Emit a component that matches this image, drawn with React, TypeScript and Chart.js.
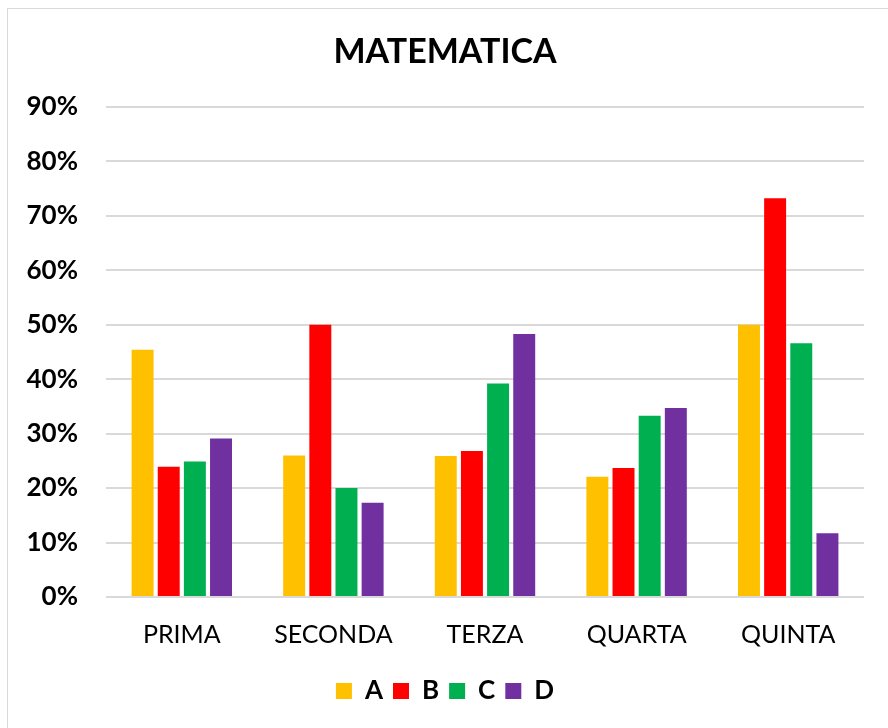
import React, { useEffect, useRef } from "react";
import { Chart, registerables } from "chart.js";

Chart.register(...registerables);

const categories = ["PRIMA", "SECONDA", "TERZA", "QUARTA", "QUINTA"];
const seriesNames = ["A", "B", "C", "D"];
const valuesA = [45.4, 26.0, 25.9, 22.1, 50.0];
const valuesB = [23.9, 50.0, 26.8, 23.7, 73.2];
const valuesC = [24.9, 20.0, 39.2, 33.3, 46.6];
const valuesD = [29.1, 17.3, 48.3, 34.7, 11.7];
const seriesColors = ["#FFC000", "#FF0000", "#00B050", "#7030A0"];
const yTicks = [0, 10, 20, 30, 40, 50, 60, 70, 80, 90];

export default function App() {
  const canvasRef = useRef<HTMLCanvasElement | null>(null);

  useEffect(() => {
    if (!canvasRef.current) return;
    const allValues = [valuesA, valuesB, valuesC, valuesD];
    const chart = new Chart(canvasRef.current, {
      type: "bar",
      data: {
        labels: categories,
        datasets: seriesNames.map((name, i) => ({
          label: name,
          data: allValues[i],
          backgroundColor: seriesColors[i],
          borderWidth: 0,
          categoryPercentage: 0.69,
          barPercentage: 0.84,
        })),
      },
      options: {
        animation: false,
        responsive: true,
        maintainAspectRatio: false,
        layout: { padding: { top: 23, left: 18, right: 24, bottom: 14 } },
        plugins: {
          title: {
            display: true,
            text: "MATEMATICA",
            color: "#000",
            font: { family: "Lato", size: 34, weight: "bold" },
            padding: { top: 0, bottom: 34 },
          },
          legend: {
            display: true,
            position: "bottom",
            labels: {
              color: "#000",
              font: { family: "Lato", size: 26, weight: "bold" },
              boxWidth: 16,
              boxHeight: 16,
              padding: 10,
            },
          },
          tooltip: { enabled: false },
        },
        scales: {
          x: {
            grid: { display: false },
            border: { display: false },
            ticks: {
              color: "#000",
              font: { family: "Lato", size: 25 },
              padding: 15,
            },
            afterFit: (scale: any) => {
              scale.height = 71;
            },
          },
          y: {
            min: 0,
            max: 90,
            afterBuildTicks: (scale: any) => {
              scale.ticks = yTicks.map((v) => ({ value: v }));
            },
            grid: { color: "#d9d9d9", lineWidth: 2, drawTicks: false },
            border: { display: false },
            ticks: {
              color: "#000",
              font: { family: "Lato", size: 26, weight: "bold" },
              padding: 28,
              callback: (v: any) => v + "%",
            },
            afterFit: (scale: any) => {
              scale.width = 80;
            },
          },
        },
      },
    });
    return () => chart.destroy();
  }, []);

  return (
    <div
      style={{
        position: "fixed",
        left: 7,
        top: 8,
        width: 881,
        height: 720,
        boxSizing: "border-box",
        borderTop: "1px solid #d9d9d9",
        borderLeft: "1px solid #d9d9d9",
        background: "#fff",
      }}
    >
      <div style={{ position: "relative", width: 880, height: 719 }}>
        <canvas ref={canvasRef} />
      </div>
    </div>
  );
}
